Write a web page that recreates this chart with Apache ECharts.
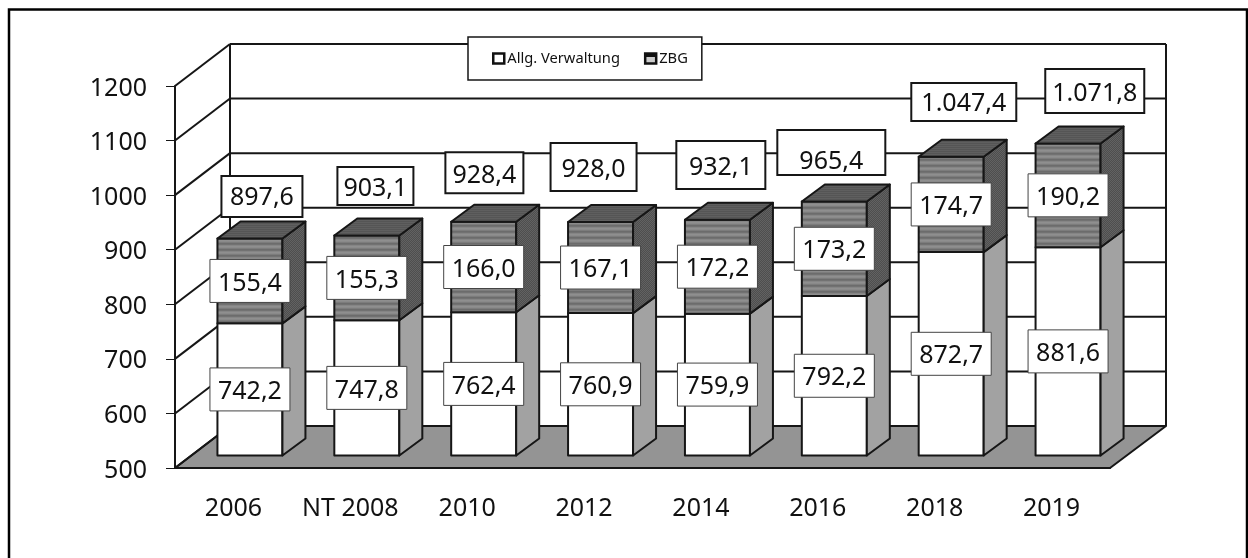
<!DOCTYPE html>
<html>
<head>
<meta charset="utf-8">
<title>Allg. Verwaltung / ZBG</title>
<script src="https://cdn.jsdelivr.net/npm/echarts@6/dist/echarts.min.js"></script>
<style>
html, body { margin: 0; padding: 0; background: #fff; overflow: hidden; }
#chart { width: 1248px; height: 558px; }
</style>
</head>
<body>
<div id="chart"></div>
<script>
var categories = ['2006', 'NT 2008', '2010', '2012', '2014', '2016', '2018', '2019'];
var verwaltung = [742.2, 747.8, 762.4, 760.9, 759.9, 792.2, 872.7, 881.6];
var zbg = [155.4, 155.3, 166.0, 167.1, 172.2, 173.2, 174.7, 190.2];
var totals = [897.6, 903.1, 928.4, 928.0, 932.1, 965.4, 1047.4, 1071.8];
var yTicks = [500, 600, 700, 800, 900, 1000, 1100, 1200];

// placement of the hand-dragged total boxes, relative to the top of each bar: dx, dy, w, h, text dy
var totalBoxes = [
  [12, -42, 81, 41, 1.5],
  [8.6, -49.5, 76, 38, 2.5],
  [0.7, -49, 78, 41, 3],
  [-7, -55, 86, 48, 2.5],
  [3.4, -54.7, 89, 48, 3],
  [-3, -49, 108, 45, 9.5],
  [12.6, -54.8, 105, 38, 1.5],
  [26.7, -52.5, 99, 44, 3]
];

var FONT = '"Noto Sans", "Open Sans", sans-serif';
var INK = '#161616';
// 3d look: depth of the walls and position of the bars inside the floor
var WALL_DX = 55, WALL_DY = -42;
var BAR_DX = 16.5, BAR_DY = -12.5;
var SIDE_DX = 23, SIDE_DY = -17;
var BAR_W = 65;

// tiled fills for the ZBG segment
function stripes(rows) {
  var c = document.createElement('canvas');
  c.width = 2;
  c.height = rows.length;
  var ctx = c.getContext('2d');
  rows.forEach(function (col, i) {
    ctx.fillStyle = col;
    ctx.fillRect(0, i, 2, 1);
  });
  return { image: c, repeat: 'repeat' };
}
function checker(a, b) {
  var c = document.createElement('canvas');
  c.width = c.height = 2;
  var ctx = c.getContext('2d');
  ctx.fillStyle = a;
  ctx.fillRect(0, 0, 2, 2);
  ctx.fillStyle = b;
  ctx.fillRect(0, 0, 1, 1);
  ctx.fillRect(1, 1, 1, 1);
  return { image: c, repeat: 'repeat' };
}
var zbgFront = stripes(['#8f8f8f', '#8a8a8a', '#7c7c7c', '#6c6c6c', '#727272', '#858585']);
var zbgSide = checker('#4e4e4e', '#626262');
var zbgTop = stripes(['#5f5f5f', '#555555']);

function fmt(v) {
  var s = v.toFixed(1).replace('.', ',');
  return s.replace(/^(\d)(\d{3})/, '$1.$2');
}

function poly(points, fill) {
  return {
    type: 'polygon',
    shape: { points: points },
    style: { fill: fill, stroke: INK, lineWidth: 2, lineJoin: 'round' }
  };
}
function line(x1, y1, x2, y2) {
  return {
    type: 'line',
    shape: { x1: x1, y1: y1, x2: x2, y2: y2 },
    style: { stroke: INK, lineWidth: 2 }
  };
}
function box(cx, cy, w, h, text, textDy, stroke, lw) {
  return [{
    type: 'rect',
    shape: { x: cx - w / 2, y: cy - h / 2, width: w, height: h },
    style: { fill: '#fff', stroke: stroke, lineWidth: lw },
    z2: 50
  }, {
    type: 'text',
    style: {
      x: cx, y: cy + textDy, text: text, fill: '#111',
      font: '25px ' + FONT, align: 'center', verticalAlign: 'middle'
    },
    z2: 51
  }];
}

function renderWall(params, api) {
  var cs = params.coordSys;
  var y = api.coord([0, api.value(0)])[1];
  var left = cs.x, right = cs.x + cs.width;
  var kids = [];
  if (params.dataIndex === 0) {
    kids.push(poly([
      [left, y], [right, y], [right + WALL_DX + 1, y + WALL_DY], [left + WALL_DX, y + WALL_DY]
    ], '#949494'));
    kids.push(line(left + WALL_DX, cs.y + WALL_DY, left + WALL_DX, y + WALL_DY));
    kids.push(line(right + WALL_DX + 1, cs.y + WALL_DY, right + WALL_DX + 1, y + WALL_DY));
  }
  kids.push(line(left, y, left + WALL_DX, y + WALL_DY));
  kids.push(line(left + WALL_DX, y + WALL_DY, right + WALL_DX + 1, y + WALL_DY));
  return { type: 'group', children: kids };
}

// data item: [category index, lower edge, upper edge, value shown]
function renderSegment(front, side, top) {
  return function (params, api) {
    var lo = api.coord([api.value(0), api.value(1)]);
    var hi = api.coord([api.value(0), api.value(2)]);
    var xl = lo[0] + BAR_DX - BAR_W / 2, xr = xl + BAR_W;
    var yb = lo[1] + BAR_DY, yt = hi[1] + BAR_DY;
    var kids = [
      poly([[xl, yb], [xr, yb], [xr, yt], [xl, yt]], front),
      poly([[xr, yb], [xr + SIDE_DX, yb + SIDE_DY], [xr + SIDE_DX, yt + SIDE_DY], [xr, yt]], side)
    ];
    if (top) {
      kids.push(poly([[xl, yt], [xr, yt], [xr + SIDE_DX, yt + SIDE_DY], [xl + SIDE_DX, yt + SIDE_DY]], top));
    }
    return {
      type: 'group',
      children: kids.concat(box((xl + xr) / 2, (yb + yt) / 2, 80, 43, fmt(api.value(3)), 2.5, '#444', 1))
    };
  };
}

function renderTotal(params, api) {
  var p = api.coord([api.value(0), api.value(1)]);
  var b = totalBoxes[params.dataIndex];
  var cx = p[0] + BAR_DX + b[0], cy = p[1] + BAR_DY + b[1];
  return { type: 'group', children: box(cx, cy, b[2], b[3], fmt(api.value(1)), b[4], INK, 2) };
}

var chart = echarts.init(document.getElementById('chart'), null, { renderer: 'canvas' });
chart.setOption({
  animation: false,
  backgroundColor: '#fff',
  grid: { left: 175, top: 86, width: 935, height: 382 },
  graphic: [{
    type: 'rect',
    silent: true,
    shape: { x: 9, y: 9.5, width: 1238, height: 600 },
    style: { fill: 'none', stroke: '#000', lineWidth: 2.5 }
  }],
  legend: {
    left: 468,
    top: 37,
    padding: [14, 14, 14, 24],
    backgroundColor: '#fff',
    borderColor: INK,
    borderWidth: 1.5,
    itemWidth: 11,
    itemHeight: 10,
    itemGap: 24,
    selectedMode: false,
    textStyle: { fontFamily: FONT, fontSize: 14.7, color: '#111', padding: [2, 0, 0, -2] },
    data: [{
      name: 'Allg. Verwaltung',
      icon: 'rect',
      itemStyle: { color: '#fff', borderColor: '#111', borderWidth: 2.5 }
    }, {
      name: 'ZBG',
      icon: 'rect',
      itemStyle: {
        color: {
          type: 'linear', x: 0, y: 0, x2: 0, y2: 1,
          colorStops: [
            { offset: 0, color: '#111' }, { offset: 0.35, color: '#111' },
            { offset: 0.36, color: '#ccc' }, { offset: 1, color: '#ccc' }
          ]
        },
        borderColor: '#111',
        borderWidth: 2.5
      }
    }]
  },
  xAxis: {
    type: 'category',
    data: categories,
    axisLine: { lineStyle: { color: INK, width: 2 } },
    axisTick: { length: 9, lineStyle: { color: '#555', width: 1 } },
    axisLabel: { fontFamily: FONT, fontSize: 25, color: '#111', margin: 28, interval: 0 }
  },
  yAxis: {
    type: 'value',
    min: 500,
    max: 1200,
    interval: 100,
    splitLine: { show: false },
    axisLine: { show: true, lineStyle: { color: INK, width: 2 } },
    axisTick: { show: true, length: 9, lineStyle: { color: INK, width: 1 } },
    axisLabel: {
      margin: 28,
      formatter: function (v) { return '{t|' + v + '}'; },
      rich: { t: { fontFamily: FONT, fontSize: 25, color: '#111', padding: [5, 0, 0, 0] } }
    }
  },
  series: [{
    type: 'custom',
    name: 'wall',
    silent: true,
    z: 1,
    renderItem: renderWall,
    encode: { y: 0 },
    data: yTicks.map(function (t) { return [t]; })
  }, {
    type: 'custom',
    name: 'Allg. Verwaltung',
    z: 2,
    renderItem: renderSegment('#fff', '#a2a2a2', null),
    encode: { x: 0, y: [1, 2] },
    data: verwaltung.map(function (v, i) { return [i, yTicks[0], v, v]; })
  }, {
    type: 'custom',
    name: 'ZBG',
    z: 3,
    renderItem: renderSegment(zbgFront, zbgSide, zbgTop),
    encode: { x: 0, y: [1, 2] },
    data: zbg.map(function (v, i) { return [i, verwaltung[i], verwaltung[i] + v, v]; })
  }, {
    type: 'custom',
    name: 'Gesamt',
    z: 4,
    renderItem: renderTotal,
    encode: { x: 0, y: 1 },
    data: totals.map(function (v, i) { return [i, v]; })
  }]
});
</script>
</body>
</html>
